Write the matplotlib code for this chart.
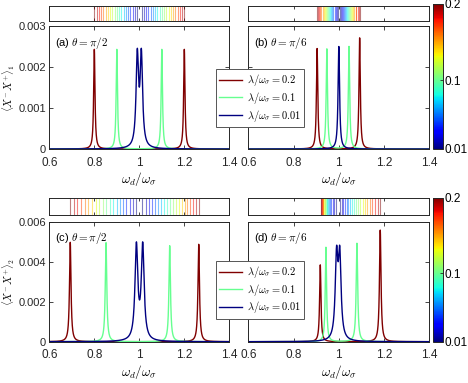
import numpy as np
import matplotlib
matplotlib.use('Agg')
import matplotlib.pyplot as plt
from matplotlib.colors import Normalize
from matplotlib.cm import ScalarMappable

plt.rcParams['font.family'] = ['Liberation Sans', 'DejaVu Sans']
plt.rcParams['mathtext.fontset'] = 'cm'
plt.rcParams['font.size'] = 8.5

# =========================
# DATOS
# =========================
lam_curves = [0.2, 0.1, 0.01]
lam_labels = [r'$\lambda/\omega_\sigma = 0.2$', r'$\lambda/\omega_\sigma = 0.1$',
              r'$\lambda/\omega_\sigma = 0.01$']

# picos (centro, amplitud, semi-anchura)
pos_a = [[0.800, 1.200], [0.900, 1.100], [0.991, 1.009]]
amp_a = [[0.00243, 0.00243], [0.00243, 0.00243], [0.00220, 0.00220]]
hw_a = [[0.0035, 0.0035], [0.0035, 0.0035], [0.0065, 0.0065]]

pos_b = [[0.904, 1.092], [0.947, 1.045], [1.000]]
amp_b = [[0.00245, 0.00271], [0.00244, 0.00250], [0.00250]]
hw_b = [[0.0035, 0.0035], [0.0035, 0.0035], [0.004]]

pos_c = [[0.693, 1.264], [0.852, 1.135], [0.987, 1.015]]
amp_c = [[0.00497, 0.00487], [0.00495, 0.00480], [0.00468, 0.00468]]
hw_c = [[0.004, 0.004], [0.004, 0.004], [0.0075, 0.0075]]

pos_d = [[0.918, 1.183], [0.943, 1.080], [0.990, 1.004]]
amp_d = [[0.00384, 0.00558], [0.00472, 0.00492], [0.00400, 0.00400]]
hw_d = [[0.0035, 0.004], [0.0035, 0.004], [0.007, 0.007]]

# tiras: posiciones de los picos para lambda = 0.01 ... 0.20
lam_strip = [0.01, 0.02, 0.03, 0.04, 0.05, 0.06, 0.07, 0.08, 0.09, 0.10,
             0.11, 0.12, 0.13, 0.14, 0.15, 0.16, 0.17, 0.18, 0.19, 0.20]
strip_a_left = [0.99, 0.98, 0.97, 0.96, 0.95, 0.94, 0.93, 0.92, 0.91, 0.90,
                0.89, 0.88, 0.87, 0.86, 0.85, 0.84, 0.83, 0.82, 0.81, 0.80]
strip_a_right = [1.01, 1.02, 1.03, 1.04, 1.05, 1.06, 1.07, 1.08, 1.09, 1.10,
                 1.11, 1.12, 1.13, 1.14, 1.15, 1.16, 1.17, 1.18, 1.19, 1.20]
strip_b_left = [0.995, 0.990, 0.986, 0.981, 0.976, 0.971, 0.966, 0.962, 0.957, 0.952,
                0.947, 0.942, 0.938, 0.933, 0.928, 0.923, 0.918, 0.914, 0.909, 0.904]
strip_b_right = [1.005, 1.009, 1.014, 1.018, 1.023, 1.028, 1.032, 1.037, 1.041, 1.046,
                 1.051, 1.055, 1.060, 1.064, 1.069, 1.074, 1.078, 1.083, 1.087, 1.092]
strip_c_left = [0.986, 0.972, 0.957, 0.943, 0.928, 0.914, 0.899, 0.884, 0.868, 0.853,
                0.838, 0.822, 0.806, 0.790, 0.774, 0.758, 0.742, 0.725, 0.709, 0.692]
strip_c_right = [1.014, 1.028, 1.042, 1.055, 1.069, 1.083, 1.096, 1.109, 1.123, 1.136,
                 1.149, 1.162, 1.175, 1.188, 1.201, 1.214, 1.226, 1.239, 1.252, 1.264]
strip_d_left = [0.988, 0.980, 0.973, 0.967, 0.962, 0.957, 0.953, 0.949, 0.946, 0.943,
                0.940, 0.937, 0.935, 0.932, 0.930, 0.928, 0.926, 0.924, 0.922, 0.920]
strip_d_right = [1.006, 1.013, 1.019, 1.027, 1.034, 1.042, 1.050, 1.058, 1.067, 1.076,
                 1.085, 1.095, 1.105, 1.115, 1.126, 1.137, 1.148, 1.160, 1.172, 1.184]

xticks = [0.6, 0.8, 1.0, 1.2, 1.4]
xticklabels = ['0.6', '0.8', '1', '1.2', '1.4']
yticks_top = [0, 0.001, 0.002, 0.003]
yticklabels_top = ['0', '0.001', '0.002', '0.003']
yticks_bot = [0, 0.002, 0.004, 0.006]
yticklabels_bot = ['0', '0.002', '0.004', '0.006']
cb_ticks = [0.01, 0.1, 0.2]
cb_labels = ['0.01', '0.1', '0.2']

cmap = plt.get_cmap('jet')
norm = Normalize(0.01, 0.2)
axcol = '#262626'

w = np.linspace(0.6, 1.4, 4001)


def lorentz_sum(pos, amp, hw):
    y = np.zeros_like(w)
    for p, a, g in zip(pos, amp, hw):
        y += a / (1 + ((w - p) / g) ** 2)
    return y


def style(ax):
    for s in ax.spines.values():
        s.set_color(axcol)
        s.set_linewidth(0.7)
    ax.tick_params(direction='in', top=True, right=True, length=3,
                   width=0.6, color=axcol, labelcolor='#262626', pad=3)
    ax.tick_params(axis='x', pad=5.5)
    ax.tick_params(axis='y', labelsize=8, pad=2.5)


def main_panel(rect, pos, amp, hw, yt, ytl, ymax, tag, ylabel):
    ax = fig.add_axes(rect)
    for i in range(3):
        y = lorentz_sum(pos[i], amp[i], hw[i])
        ax.plot(w, y, color=cmap(norm(lam_curves[i])), lw=1.0)
    ax.set_xlim(0.6, 1.4)
    ax.set_ylim(0, ymax)
    ax.set_xticks(xticks)
    ax.set_xticklabels(xticklabels)
    ax.set_yticks(yt)
    if ylabel is not None:
        ax.set_yticklabels(ytl)
        ax.set_ylabel(ylabel, fontsize=7.5)
        ax.yaxis.set_label_coords(-0.178, 0.5)
    else:
        ax.set_yticklabels([])
    ax.set_xlabel(r'$\omega_d/\omega_\sigma$', fontsize=9.5, labelpad=1)
    ax.text(0.03, 0.93, tag, transform=ax.transAxes, fontsize=8, va='top')
    style(ax)
    return ax


def strip_panel(rect, left, right):
    ax = fig.add_axes(rect)
    for l, xl, xr in zip(lam_strip, left, right):
        c = cmap(norm(l))
        ax.plot([xl, xl], [0, 1], color=c, lw=0.8, alpha=0.5)
        ax.plot([xr, xr], [0, 1], color=c, lw=0.8, alpha=0.5)
    ax.set_xlim(0.6, 1.4)
    ax.set_ylim(0, 1)
    ax.set_xticks(xticks)
    ax.set_xticklabels([])
    ax.set_yticks([])
    style(ax)
    ax.tick_params(length=2)
    return ax


def colorbar_panel(rect):
    cax = fig.add_axes(rect)
    cb = fig.colorbar(ScalarMappable(norm=norm, cmap=cmap), cax=cax)
    cb.set_ticks(cb_ticks)
    cb.set_ticklabels(cb_labels)
    cb.outline.set_edgecolor(axcol)
    cb.outline.set_linewidth(0.7)
    cax.tick_params(direction='in', length=2, width=0.6, color=axcol, pad=1.5,
                    labelsize=8.5)
    return cb


fig = plt.figure(figsize=(4.68, 3.83), dpi=100)

ax_a = main_panel([0.1054, 0.611, 0.3846, 0.3211], pos_a, amp_a, hw_a,
                  yticks_top, yticklabels_top, 0.003, r'(a) $\theta = \pi/2$',
                  r'$\langle X^{-}X^{+}\rangle_1$')
ax_b = main_panel([0.5306, 0.611, 0.3868, 0.3211], pos_b, amp_b, hw_b,
                  yticks_top, yticklabels_top, 0.003, r'(b) $\theta = \pi/6$', None)
ax_c = main_panel([0.1054, 0.1078, 0.3846, 0.3133], pos_c, amp_c, hw_c,
                  yticks_bot, yticklabels_bot, 0.006, r'(c) $\theta = \pi/2$',
                  r'$\langle X^{-}X^{+}\rangle_2$')
ax_d = main_panel([0.5306, 0.1078, 0.3868, 0.3133], pos_d, amp_d, hw_d,
                  yticks_bot, yticklabels_bot, 0.006, r'(d) $\theta = \pi/6$', None)

strip_panel([0.1054, 0.9452, 0.3846, 0.040], strip_a_left, strip_a_right)
strip_panel([0.5306, 0.9452, 0.3868, 0.040], strip_b_left, strip_b_right)
strip_panel([0.1054, 0.4386, 0.3846, 0.0436], strip_c_left, strip_c_right)
strip_panel([0.5306, 0.4386, 0.3868, 0.0436], strip_d_left, strip_d_right)

colorbar_panel([0.925, 0.611, 0.0214, 0.3786])
colorbar_panel([0.925, 0.1078, 0.0214, 0.376])

handles_top = ax_a.get_lines()
handles_bot = ax_c.get_lines()
for hnd, yc in [(handles_top, 0.744), (handles_bot, 0.243)]:
    leg = fig.legend(hnd, lam_labels, loc='center', bbox_to_anchor=(0.5556, yc),
                     fontsize=7.5, fancybox=False, framealpha=1, edgecolor='#555555',
                     handlelength=2.2, handletextpad=0.4, borderpad=0.3,
                     labelspacing=0.15)
    leg.get_frame().set_linewidth(0.7)

fig.savefig('out.png', dpi=100)
